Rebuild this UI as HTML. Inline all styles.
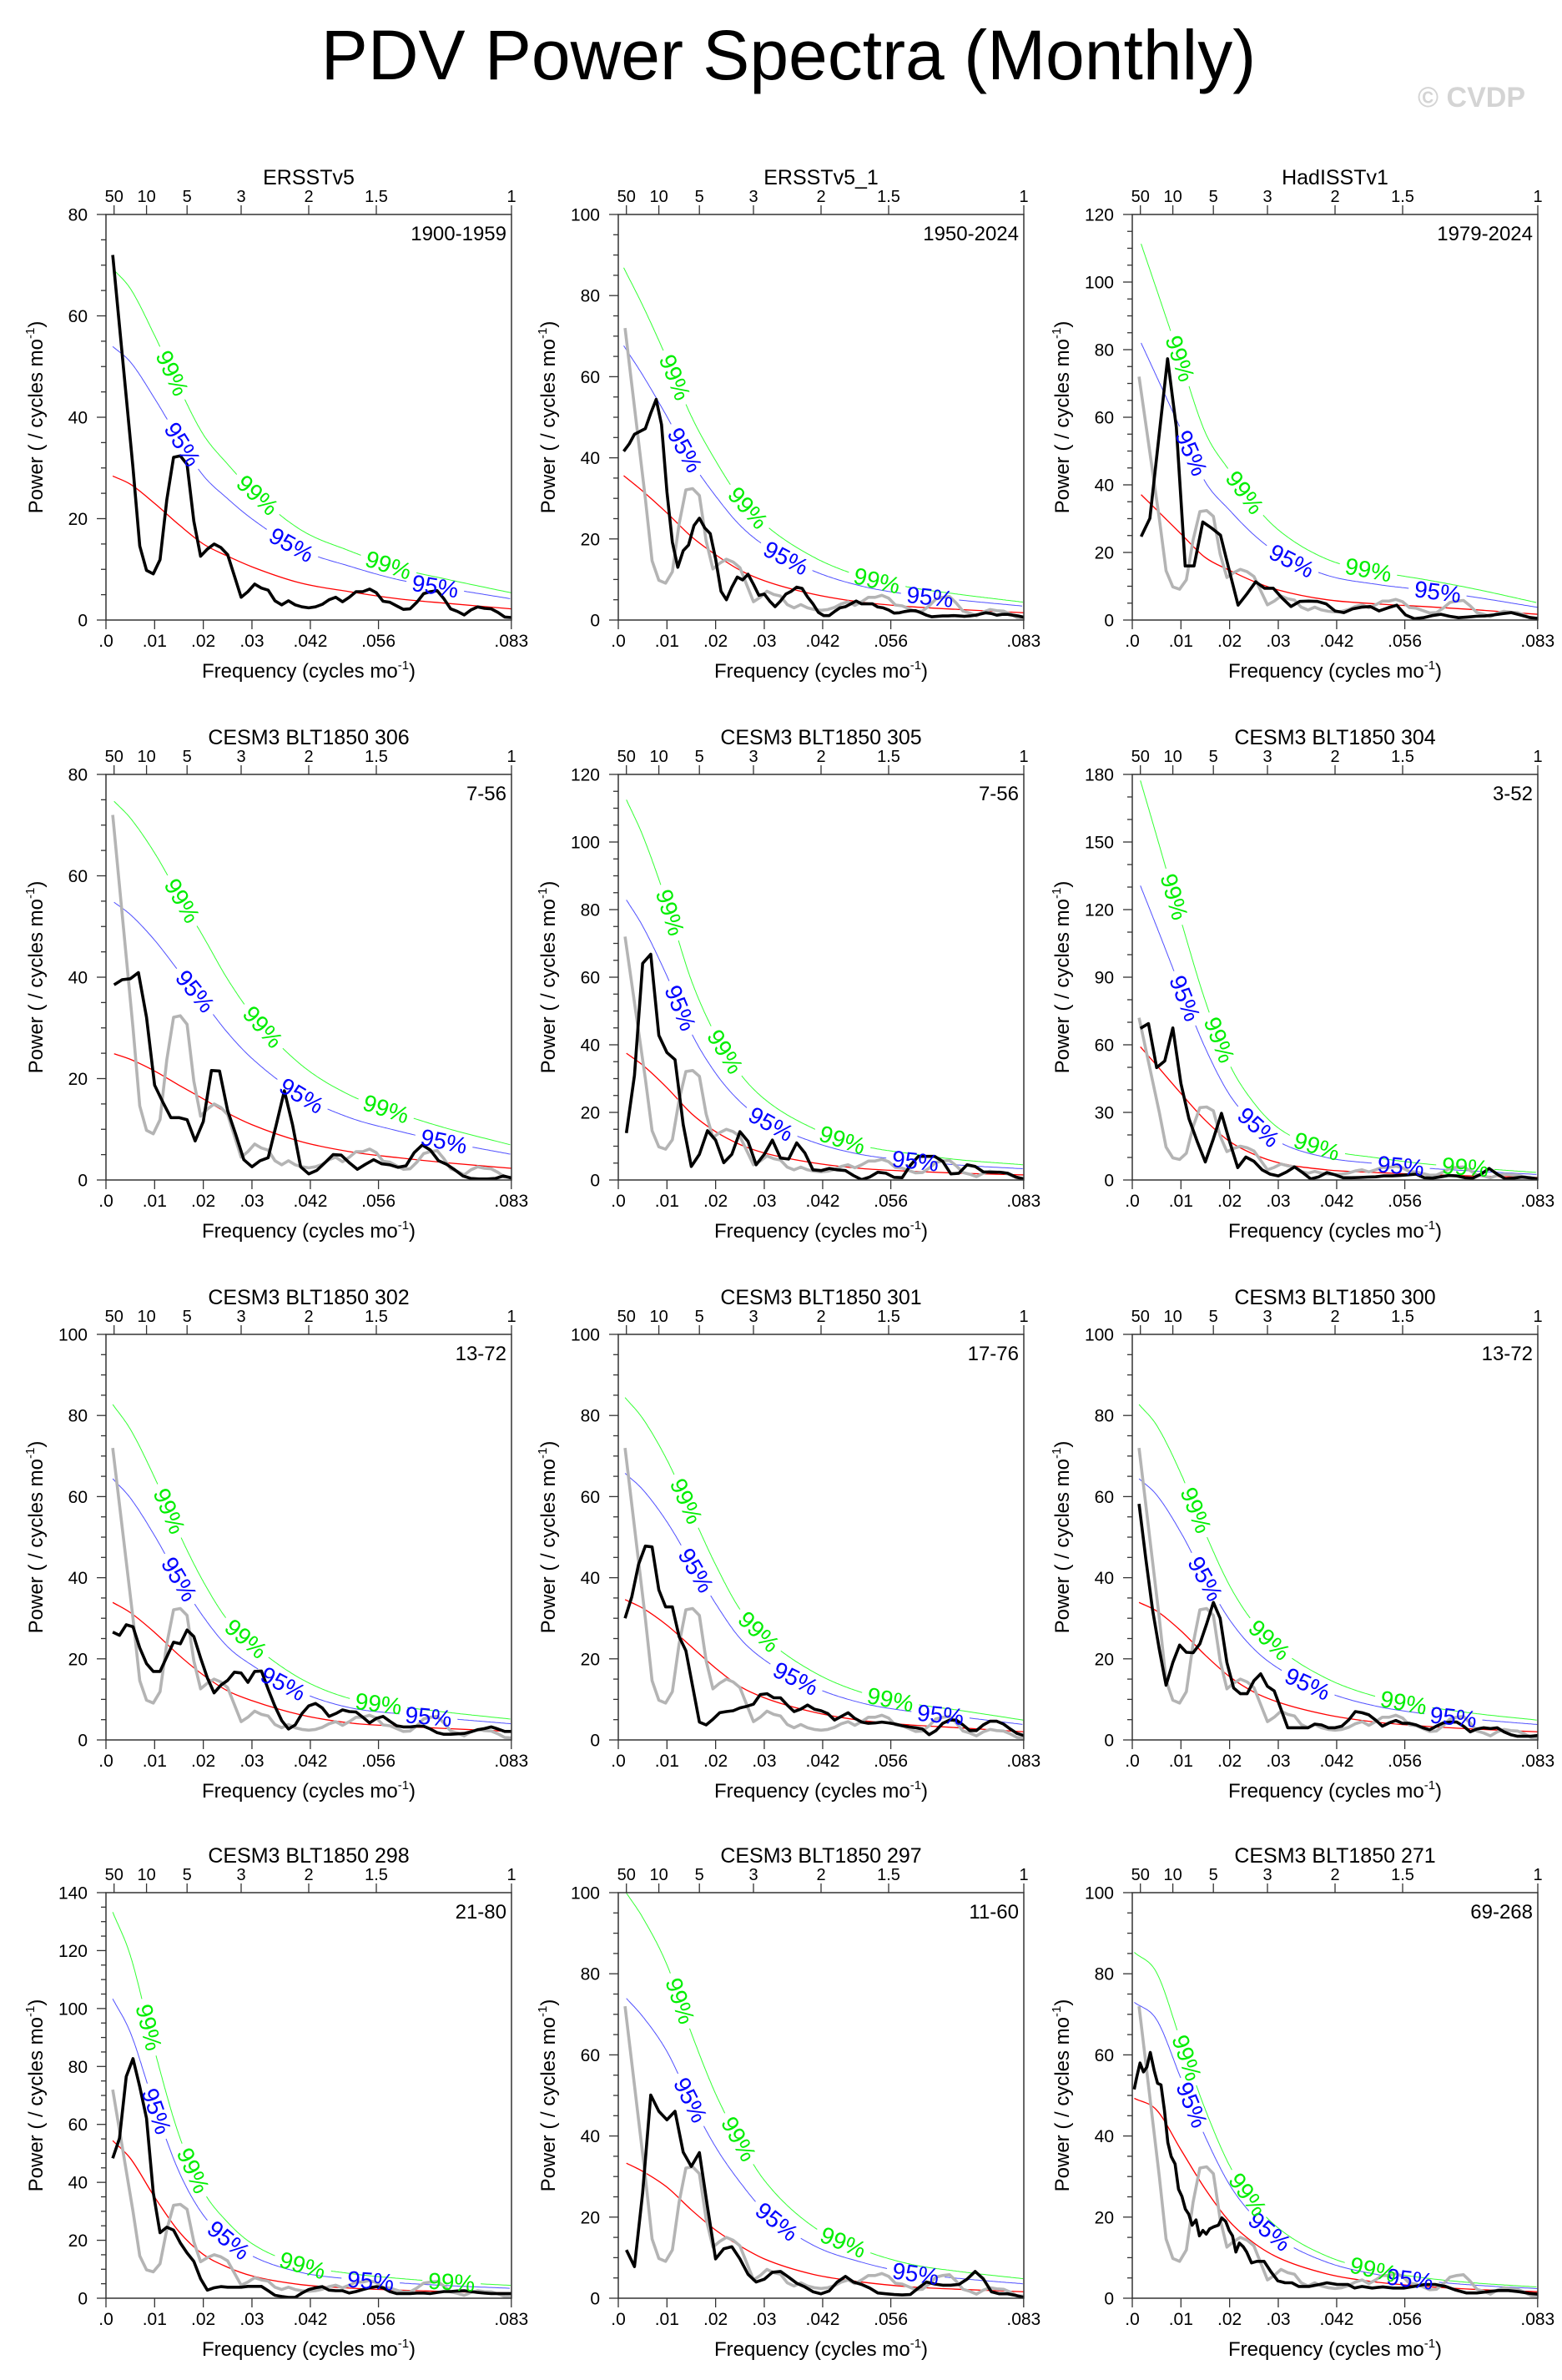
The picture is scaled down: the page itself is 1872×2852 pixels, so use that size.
<!DOCTYPE html>
<html><head><meta charset="utf-8"><title>PDV Power Spectra (Monthly)</title>
<style>
html,body{margin:0;padding:0;background:#fff;}
svg{display:block;font-family:"Liberation Sans",Arial,sans-serif;}
</style></head>
<body>
<svg id="chart" xmlns="http://www.w3.org/2000/svg" width="1872" height="2852" viewBox="0 0 1872 2852">
<rect x="0" y="0" width="1872" height="2852" fill="#fff"/>
<text x="945" y="95" text-anchor="middle" font-size="84" fill="#000">PDV Power Spectra (Monthly)</text>
<text x="1828" y="128" text-anchor="end" font-size="34" font-weight="bold" fill="#d4d4d4">© CVDP</text>
</svg>
<script>
const panelTitles = ["ERSSTv5","ERSSTv5_1","HadISSTv1","CESM3 BLT1850 306","CESM3 BLT1850 305","CESM3 BLT1850 304","CESM3 BLT1850 302","CESM3 BLT1850 301","CESM3 BLT1850 300","CESM3 BLT1850 298","CESM3 BLT1850 297","CESM3 BLT1850 271"];
const periodLabels = ["1900-1959","1950-2024","1979-2024","7-56","7-56","3-52","13-72","17-76","13-72","21-80","11-60","69-268"];
const yMax = [80,100,120,80,120,180,100,100,100,140,100,100];
const yStep = [20,20,20,20,20,30,20,20,20,20,20,20];
const nYears = [60,75,46,50,50,50,60,60,60,60,50,200];
const xTickValues = [0,0.01,0.02,0.03,0.042,0.056,0.0833];
const xTickLabels = [".0",".01",".02",".03",".042",".056",".083"];
const periodTicks = [50,10,5,3,2,1.5,1];
const periodTickLabels = ["50","10","5","3","2","1.5","1"];
const redFreqs = [0.005,0.01,0.015,0.02,0.025,0.03,0.04,0.05,0.06,0.07,0.0833];

const p1Power = [72,58,44,30,14.6,9.8,9.1,11.9,23.7,32.1,32.4,30.7,19.5,12.6,14,15,14.3,12.9,8.7,4.5,5.6,7.1,6.3,5.9,3.8,3.0,3.8,3.0,2.6,2.4,2.6,3.1,4.0,4.5,3.6,4.5,5.6,5.6,6.1,5.4,3.7,3.5,2.8,2.1,2.2,3.5,5.2,5.6,5.8,4.2,2.2,1.7,1.0,2.0,2.6,2.3,2.2,1.5,0.6,0.5];
const p2Power = [41.6,43.4,45.8,46.5,47.2,51,54.4,48.2,31.6,19.2,13,17.1,18.5,23.3,25.1,22.7,21.3,15.1,7.1,5,8.1,10.6,9.9,11.3,8.8,6.1,6.4,4.7,3.3,4.7,6.4,7.1,8.1,7.8,5.7,4,1.9,1.1,1.1,2.1,3,3.3,4,4.7,4,4,4,3.2,3,2.5,1.7,1.8,2.1,2.3,2.3,1.8,1.2,0.8,0.9,1,1,1.1,1,0.9,1,1.2,1.5,1.8,1.6,1.2,1.4,1.4,1.2,1,0.7];
const p3Power = [24.7,30.1,53.7,77.3,57,16,16,29,27.2,25.1,14.7,4.4,7.7,11.3,9.4,9.4,6.5,4,5.5,5.6,5.5,4.8,2.7,2.2,3.3,3.8,4,2.7,3.6,4.4,1.5,0.4,0.7,1.3,1.7,1.1,0.7,0.9,1.1,1.2,1.5,1.9,2.2,1.5,0.8,0.5];
const p4Power = [38.5,39.5,39.7,40.9,32.1,18.7,15.4,12.3,12.3,11.9,7.7,11.5,21.6,21.5,13.7,9,4,2.6,3.8,4.4,10.9,17.6,10.9,2.6,1.2,1.9,3.4,5,4.9,3.4,2.1,3.1,4,3.2,3,2.5,2.8,5.4,6.9,5.9,3.8,3.1,2,0.8,0.3,0.2,0.2,0.3,0.8,0.4];
const p5Power = [13.9,31,64.1,66.8,42.8,37.7,35.6,16.4,4,7.6,14.6,11.8,5.1,7.6,14.3,11.4,4.5,7.6,11.8,6.5,6.2,11,8,3,2.8,3.4,3,2.8,1.3,0.1,0.9,2.3,2,0.8,0.7,4.3,7,7,7,5.5,1.8,2,4.5,4,2.4,2.3,2.3,2,0.9,0.3];
const p6Power = [67.3,69.4,49.9,52.8,67.5,42.8,27.1,17.1,8,18.3,29.6,17.1,5.5,10.2,8.3,4.5,2.6,1.8,3.5,5.8,3.3,0.5,1.4,3.3,2.3,1,1,1.1,1.3,1.4,1.8,1.8,2,2.3,2.6,1,0.8,1.4,2,1.8,1,0.8,2.6,5.1,2.6,0.5,0.8,1.3,1,0.5];
const p7Power = [26.6,25.8,28.4,27.9,22.7,18.8,16.9,16.9,20.5,24.1,23.7,27.1,25.5,20.2,15.3,11.6,13.5,14.7,16.7,16.5,14.2,16.9,17,12.5,8.3,4.8,2.7,3.7,6.5,8.4,9,7.9,5.8,6.5,7.4,7,6.9,5.6,4.2,5.3,5.8,4.6,3.5,3.2,3.2,3.4,3.4,2.7,1.8,1.4,1.4,1.5,1.6,2,2.5,2.8,3.2,2.7,2.1,2.1];
const p8Power = [30,35.3,43.3,47.8,47.6,37,32.8,32.8,25.5,22,13.2,4.4,3.7,5.1,6.7,7,7.2,7.9,8.3,8.8,11.2,11.4,10.4,10.4,8.6,7,7.6,8.6,7.6,7.2,6.5,4.9,5.8,6.7,5.3,4.4,4.1,4.2,4.4,4.2,3.9,3.5,3.2,3,2.7,1.3,2.3,4.1,4.9,4.9,3.7,2.3,2.3,3.7,4.6,4.6,3.9,2.7,1.6,1.1];
const p9Power = [58.2,44.7,32.1,22.3,13.5,19.1,23.4,21.6,21.5,23.7,28.6,33.9,30,19.1,12.8,11.4,11.4,14.6,16.3,13.2,12.1,7.6,3,3,3,3,3.9,3.7,3,3,3.4,4.9,7,6.7,6.2,4.9,3.4,4.2,4.8,4.1,4.1,3.7,3,2.5,3.4,4.2,4.4,4.4,3.4,2,2.7,3,2.8,3,2,1.3,0.9,0.9,0.9,1.1];
const p10Power = [48.3,55.2,76.5,82.7,73,62.1,36.4,22.6,24.5,23.5,19.1,15.6,12.7,6.7,2.8,3.6,4,3.8,3.8,3.8,4.1,4.1,4.1,2.6,1,0.6,0.3,0.3,1.8,3,3.6,4,2.8,2.6,2.6,1.8,2.3,3,3.6,4,3.6,2.3,1.6,1.6,1.6,1.8,1.8,1.6,2,2.3,2.3,2.5,2.6,2.3,2,1.8,1.6,1.6,1.6,1.6];
const p11Power = [11.9,7.8,26,50.1,46.1,44,46.1,36,32.5,35.9,22.5,9.7,12.2,12.7,9.7,5.9,4,4.7,6.4,6.6,5.2,3.7,2.8,1.6,1.1,1.8,4,5.4,4,3.4,2.5,1.3,1.1,0.9,0.8,0.9,2.5,4,3.5,3.2,3.2,3.4,4.7,6.6,4.8,1.6,1.1,1.1,0.7,0.2];
const p12Freq = [0.0004,0.0009,0.0016,0.0023,0.0030,0.0037,0.0045,0.0052,0.0059,0.0066,0.0073,0.0080,0.0088,0.0095,0.0102,0.0109,0.0116,0.0123,0.0131,0.0138,0.0145,0.0152,0.0159,0.0167,0.0177,0.0184,0.0192,0.0199,0.0206,0.0213,0.0220,0.0228,0.0235,0.0245,0.0256,0.0271,0.0285,0.0299,0.0314,0.0328,0.0342,0.0364,0.0385,0.0400,0.0421,0.0443,0.0457,0.0472,0.0493,0.0515,0.0536,0.0558,0.0579,0.0601,0.0622,0.0644,0.0665,0.0687,0.0708,0.0730,0.0752,0.0773,0.0795,0.0816,0.0833];
const p12Power = [51.5,54.4,58,55.8,57,60.6,56.2,53,52.6,46.4,38.4,34.9,33.1,26.9,25.1,22,20.7,18,19.3,15.4,16.7,15.8,17.1,17.6,18,19.8,18.9,16.7,15.4,11.4,13.6,12.7,11.4,8.7,9.1,9.1,6.5,4.3,3.8,3.8,2.9,2.9,3.4,3.8,3.4,3.4,2.5,2.9,2.5,2.8,2.5,2.5,2.9,3.4,3.4,2.9,2.0,1.3,1.3,1.6,1.9,1.9,1.6,1.2,1.0];

const p1Red = [28.4,26.8,23.0,18.8,15.0,12.6,10.5,7.3,5.6,4.2,3.3,2.2];
const p2Red = [35.6,31.8,26.4,20.6,16.1,12.3,9.7,6.4,4.4,3.3,2.6,1.8];
const p3Red = [37.1,32.6,25.5,18.5,14.7,11.4,8.9,6,4.8,4,3.1,1.7];
const p4Red = [24.9,23.8,21.5,18.7,16,13.2,10.9,7.6,5.6,4.4,3.4,2.3];
const p5Red = [37.5,34,27.3,19.7,14.3,10.5,8,5.1,3.4,2.6,2,1.5];
const p6Red = [59.1,50.9,38.4,26.5,17.1,11.4,7.7,4.5,3.3,2.4,1.8,1.1];
const p7Red = [33.9,31.4,26.5,20.9,16,12.1,9.7,6.2,4.2,3.4,2.8,2.1];
const p8Red = [34.6,32.5,28.3,23,17.7,13.2,10.4,6.9,4.8,3.7,3,2];
const p9Red = [33.9,31.8,26.9,20.9,15.6,11.8,9.3,6.2,4.4,3.4,2.7,2];
const p10Red = [54.4,48.3,34.9,23,15.1,10.7,7.7,4.7,3.5,2.8,2.3,1.8];
const p11Red = [33.3,31.3,27.4,21.8,16.8,12.9,9.7,5.9,4,2.8,2.2,1.6];
const p12Red = [49.3,46.4,36.6,26.9,18.9,13.6,10,6,4,2.9,2.2,1.6];
const conf95 = [1.9,1.9,2.21,2.2,2.21,2.21,1.9,1.9,1.9,1.9,2.22,1.48];
const conf99 = [2.44,2.44,3.0,3.0,3.0,3.0,2.44,2.44,2.44,2.45,3.0,1.73];

const powerSeries = [p1Power,p2Power,p3Power,p4Power,p5Power,p6Power,p7Power,p8Power,p9Power,p10Power,p11Power,p12Power];
const redSeries = [p1Red,p2Red,p3Red,p4Red,p5Red,p6Red,p7Red,p8Red,p9Red,p10Red,p11Red,p12Red];

const NS = 'http://www.w3.org/2000/svg';
const svg = document.getElementById('chart');
const FMAX = 1/12;
const colX = [127, 741, 1357];
const rowY = [257, 928, 1599, 2268];
const W = 486, H = 486;

function el(tag, attrs, parent){
  const e = document.createElementNS(NS, tag);
  for (const k in attrs) e.setAttribute(k, attrs[k]);
  parent.appendChild(e);
  return e;
}
function monoPath(px, py){
  const n = px.length; const d = [], m = [];
  for (let i=0;i<n-1;i++) d.push((py[i+1]-py[i])/(px[i+1]-px[i]));
  m.push(d[0]);
  for (let i=1;i<n-1;i++) m.push(d[i-1]*d[i] <= 0 ? 0 : (d[i-1]+d[i])/2);
  m.push(d[n-2]);
  for (let i=0;i<n-1;i++){ if (d[i]===0){m[i]=0;m[i+1]=0;continue;}
    const a=m[i]/d[i], b=m[i+1]/d[i], s=a*a+b*b;
    if (s>9){const t=3/Math.sqrt(s); m[i]=t*a*d[i]; m[i+1]=t*b*d[i];} }
  let s = 'M'+px[0].toFixed(2)+','+py[0].toFixed(2);
  for (let i=0;i<n-1;i++){ const h=(px[i+1]-px[i])/3;
    s += ' C'+(px[i]+h).toFixed(2)+','+(py[i]+m[i]*h).toFixed(2)+' '+(px[i+1]-h).toFixed(2)+','+(py[i+1]-m[i+1]*h).toFixed(2)+' '+px[i+1].toFixed(2)+','+py[i+1].toFixed(2); }
  return s;
}

for (let i=0;i<12;i++){
  const x0 = colX[i%3], y0 = rowY[Math.floor(i/3)];
  const xs = f => x0 + f/FMAX*W;
  const ys = v => y0 + H - v/yMax[i]*H;
  const g = el('g', {}, svg);
  
  
  const cp = el('clipPath', {id:'clip'+i}, g);
  el('rect', {x:x0, y:y0, width:W, height:H}, cp);

  for (let v=0; v<=yMax[i]+1e-6; v+=yStep[i]/(yStep[i]===30?3:4)){
    const major = Math.abs(v/yStep[i]-Math.round(v/yStep[i]))<1e-6;
    const t = el('line', {x1:x0-(major?11:6), x2:x0, y1:ys(v), y2:ys(v), stroke:'#333', 'stroke-width':1.3}, g);
    
    
    if (major){
      const lb = el('text', {x:x0-22, y:ys(v)+7.5, 'text-anchor':'end', 'font-size':21, fill:'#000'}, g);
      lb.textContent = String(Math.round(v));
      
      
    }
  }
  xTickValues.forEach((f, j) => {
    const t = el('line', {x1:xs(f), x2:xs(f), y1:y0+H, y2:y0+H+11, stroke:'#333', 'stroke-width':1.3}, g);
    
    
    const lb = el('text', {x:xs(f), y:y0+H+32, 'text-anchor':'middle', 'font-size':21, fill:'#000'}, g);
    lb.textContent = xTickLabels[j];
    
    
  });
  periodTicks.forEach((p, j) => {
    const f = 1/(p*12);
    const t = el('line', {x1:xs(f), x2:xs(f), y1:y0, y2:y0-11, stroke:'#333', 'stroke-width':1.3}, g);
    
    
    const lb = el('text', {x:xs(f), y:y0-15, 'text-anchor':'middle', 'font-size':20, fill:'#000'}, g);
    lb.textContent = periodTickLabels[j];
    
    
  });
  const tt = el('text', {x:x0+W/2, y:y0-36, 'text-anchor':'middle', 'font-size':25, fill:'#000'}, g);
  tt.textContent = panelTitles[i];
  
  
  const pl = el('text', {x:x0+W-6, y:y0+31, 'text-anchor':'end', 'font-size':24, fill:'#000'}, g);
  pl.textContent = periodLabels[i];
  
  
  const xt = el('text', {x:x0+W/2, y:y0+H+69, 'text-anchor':'middle', 'font-size':24, fill:'#000'}, g);
  xt.innerHTML = 'Frequency (cycles mo<tspan dy="-10" font-size="15">-1</tspan><tspan dy="10">)</tspan>';
  
  
  const yt = el('text', {x:0, y:0, 'text-anchor':'middle', 'font-size':24, fill:'#000', transform:'translate('+(x0-76)+','+(y0+H/2)+') rotate(-90)'}, g);
  yt.innerHTML = 'Power ( / cycles mo<tspan dy="-10" font-size="15">-1</tspan><tspan dy="10">)</tspan>';
  
  

  const f0 = 1/(nYears[i]*12);
  const rf = [f0].concat(redFreqs);
  const px = rf.map(xs);
  const plot = el('g', {'clip-path':'url(#clip'+i+')'}, g);
  const curves = [
    {mult:1, color:'#ff0000', w:1.3, name:'red-noise-curve', label:null},
    {mult:conf95[i], color:'#5050ff', w:1, name:'confidence-95-curve', label:'95%', lc:'#0000ff'},
    {mult:conf99[i], color:'#33ff33', w:1, name:'confidence-99-curve', label:'99%', lc:'#00ee00'}
  ];
  curves.forEach(c => {
    const py = redSeries[i].map(v => ys(v*c.mult));
    const p = el('path', {d:monoPath(px, py), fill:'none', stroke:c.color, 'stroke-width':c.w}, plot);
    
    
    if (!c.label) return;
    const L = p.getTotalLength();
    const pos = [];
    for (let s=145; s+55<L; s+=180) pos.push(s);
    const placements = pos.map(q => {
      const a = p.getPointAtLength(Math.max(0,q-6)), b = p.getPointAtLength(Math.min(L,q+6)), m = p.getPointAtLength(q);
      return {x:m.x, y:m.y, ang:Math.atan2(b.y-a.y, b.x-a.x)*180/Math.PI};
    });
    let d = '', pen = false;
    for (let s=0; s<=L; s+=2){
      const gap = pos.some(q => Math.abs(s-q) < 35);
      if (gap){ pen=false; continue; }
      const pt = p.getPointAtLength(s);
      d += (pen?' L':' M') + pt.x.toFixed(1)+','+pt.y.toFixed(1); pen = true;
    }
    p.setAttribute('d', d);
    placements.forEach(pp => {
      const t = el('text', {x:0, y:0, 'text-anchor':'middle', 'dominant-baseline':'central', 'font-size':28, fill:c.lc, transform:'translate('+pp.x.toFixed(1)+','+pp.y.toFixed(1)+') rotate('+pp.ang.toFixed(1)+')'}, g);
      t.textContent = c.label;
      
      
    });
  });

  if (i>0){
    const gp = p1Power.map((v,k) => xs((k+1)/(nYears[0]*12)).toFixed(1)+','+ys(v).toFixed(1)).join(' ');
    const gl = el('polyline', {points:gp, fill:'none', stroke:'#b4b4b4', 'stroke-width':3.6, 'stroke-linejoin':'round'}, plot);
    
    
  }
  const ser = powerSeries[i];
  const fr = (i===11) ? p12Freq : ser.map((v,k) => (k+1)/(nYears[i]*12));
  const bp = ser.map((v,k) => xs(fr[k]).toFixed(1)+','+ys(v).toFixed(1)).join(' ');
  const bl = el('polyline', {points:bp, fill:'none', stroke:'#000', 'stroke-width':3.6, 'stroke-linejoin':'round'}, plot);
  
  

  const fr2 = el('rect', {x:x0, y:y0, width:W, height:H, fill:'none', stroke:'#333', 'stroke-width':1.5}, g);
  
  
}
</script>
</body></html>
